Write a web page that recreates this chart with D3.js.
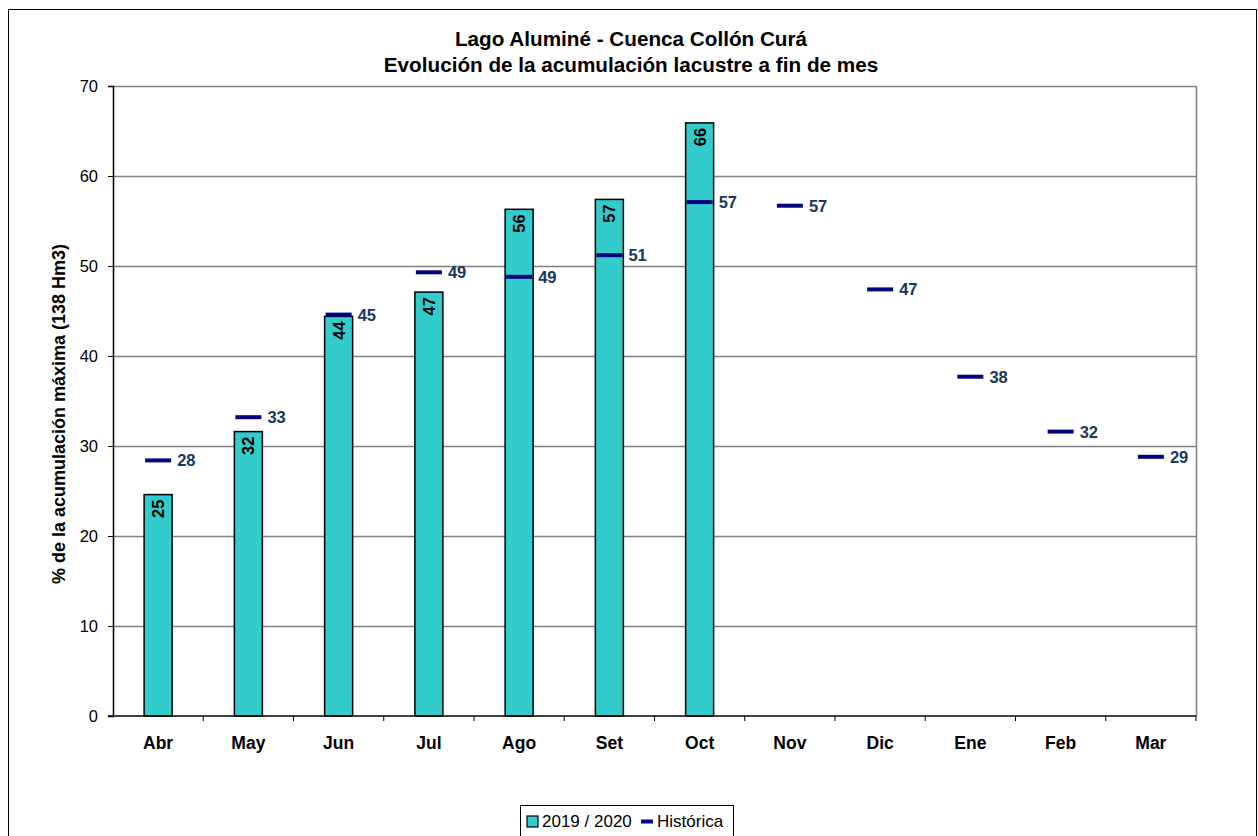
<!DOCTYPE html>
<html>
<head>
<meta charset="utf-8">
<script src="https://cdnjs.cloudflare.com/ajax/libs/d3/7.8.5/d3.min.js"></script>
<style>
body { margin: 0; background: #fff; }
svg text { font-family: "Liberation Sans", Arial, sans-serif; }
</style>
</head>
<body>
<svg id="chart" width="1258" height="836"></svg>
<script>
// datos
var meses = ["Abr","May","Jun","Jul","Ago","Set","Oct","Nov","Dic","Ene","Feb","Mar"];
var actual = [24.6, 31.6, 44.4, 47.1, 56.3, 57.4, 65.9];          // 2019 / 2020
var historica = [28.4, 33.2, 44.6, 49.3, 48.8, 51.2, 57.1, 56.7, 47.4, 37.7, 31.6, 28.8];
var yTicks = [0, 10, 20, 30, 40, 50, 60, 70];

var svg = d3.select("#chart");
var pLeft = 113, pRight = 1196, pTop = 86, pBottom = 716;

// marco exterior
svg.append("rect")
	.attr("x", 8.5).attr("y", 9.5)
	.attr("width", 1248).attr("height", 840)
	.attr("fill", "#fff").attr("stroke", "#000").attr("stroke-width", 1);

var x = d3.scaleBand().domain(meses).range([pLeft, pRight]);
var y = d3.scaleLinear().domain([0, 70]).range([pBottom, pTop]);

// grilla
svg.append("g").selectAll("line")
	.data(yTicks.filter(function(d){ return d > 0; }))
	.enter().append("line")
	.attr("x1", pLeft).attr("x2", pRight)
	.attr("y1", function(d){ return y(d) + 0.5; })
	.attr("y2", function(d){ return y(d) + 0.5; })
	.attr("stroke", "#808080").attr("stroke-width", 1.5);

// borde derecho gris
svg.append("line")
	.attr("x1", pRight + 0.5).attr("x2", pRight + 0.5)
	.attr("y1", pTop).attr("y2", pBottom)
	.attr("stroke", "#808080").attr("stroke-width", 1.5);

// barras
var bw = 28;
svg.append("g").selectAll("rect")
	.data(actual)
	.enter().append("rect")
	.attr("x", function(d, i){ return x(meses[i]) + x.bandwidth() / 2 - bw / 2; })
	.attr("y", function(d){ return y(d); })
	.attr("width", bw)
	.attr("height", function(d){ return pBottom - y(d); })
	.attr("fill", "#33CCCC")
	.attr("stroke", "#000").attr("stroke-width", 1.5);

// etiquetas barras (rotadas)
svg.append("g").selectAll("text")
	.data(actual)
	.enter().append("text")
	.attr("transform", function(d, i){
		var cx = x(meses[i]) + x.bandwidth() / 2 + 6;
		return "translate(" + cx + "," + (y(d) + 5) + ") rotate(-90)";
	})
	.attr("text-anchor", "end")
	.attr("font-size", "16.5px")
	.attr("font-weight", "bold")
	.attr("fill", "#000")
	.text(function(d){ return Math.round(d); });

// historica
var hw = 26;
svg.append("g").selectAll("line")
	.data(historica)
	.enter().append("line")
	.attr("x1", function(d, i){ return x(meses[i]) + x.bandwidth() / 2 - hw / 2; })
	.attr("x2", function(d, i){ return x(meses[i]) + x.bandwidth() / 2 + hw / 2; })
	.attr("y1", function(d){ return y(d); })
	.attr("y2", function(d){ return y(d); })
	.attr("stroke", "#000080").attr("stroke-width", 4);

svg.append("g").selectAll("text")
	.data(historica)
	.enter().append("text")
	.attr("x", function(d, i){ return x(meses[i]) + x.bandwidth() / 2 + 19; })
	.attr("y", function(d){ return y(d) + 6; })
	.attr("font-size", "16.5px")
	.attr("font-weight", "bold")
	.attr("fill", "#17375E")
	.text(function(d){ return Math.round(d); });

// eje y
var yAxis = d3.axisLeft(y).tickValues(yTicks).tickSize(5).tickPadding(10);
var gy = svg.append("g").attr("transform", "translate(" + pLeft + ",0)").call(yAxis);
gy.select(".domain").attr("stroke", "#000").attr("stroke-width", 1.5);
gy.selectAll(".tick line").attr("stroke", "#000");
gy.selectAll("text").attr("font-size", "16.5px").attr("fill", "#000")
	.attr("font-family", "Liberation Sans, Arial, sans-serif");

// eje x
var gx = svg.append("g").attr("transform", "translate(0," + pBottom + ")");
gx.append("line")
	.attr("x1", pLeft - 5).attr("x2", pRight)
	.attr("y1", 0).attr("y2", 0)
	.attr("stroke", "#000").attr("stroke-width", 1.5);
gx.selectAll(".tk")
	.data(meses)
	.enter().append("line")
	.attr("x1", function(d){ return x(d) + x.bandwidth(); })
	.attr("x2", function(d){ return x(d) + x.bandwidth(); })
	.attr("y1", 0).attr("y2", 5)
	.attr("stroke", "#000");
gx.selectAll(".lbl")
	.data(meses)
	.enter().append("text")
	.attr("x", function(d){ return x(d) + x.bandwidth() / 2; })
	.attr("y", 33)
	.attr("text-anchor", "middle")
	.attr("font-size", "17.5px")
	.attr("font-weight", "bold")
	.text(function(d){ return d; });

// titulo
svg.append("text")
	.attr("x", 631).attr("y", 46)
	.attr("text-anchor", "middle")
	.attr("font-size", "20.7px").attr("font-weight", "bold")
	.text("Lago Aluminé - Cuenca Collón Curá");
svg.append("text")
	.attr("x", 631).attr("y", 72)
	.attr("text-anchor", "middle")
	.attr("font-size", "20.7px").attr("font-weight", "bold")
	.text("Evolución de la acumulación lacustre a fin de mes");

// titulo eje y
svg.append("text")
	.attr("transform", "translate(65," + 414 + ") rotate(-90)")
	.attr("text-anchor", "middle")
	.attr("font-size", "18px").attr("font-weight", "bold")
	.text("% de la acumulación máxima (138 Hm3)");

// leyenda
var lg = svg.append("g").attr("transform", "translate(520,805)");
lg.append("rect")
	.attr("x", 0.5).attr("y", 0.5).attr("width", 213).attr("height", 40)
	.attr("fill", "#fff").attr("stroke", "#000");
lg.append("rect")
	.attr("x", 7).attr("y", 11).attr("width", 11).attr("height", 11)
	.attr("fill", "#33CCCC").attr("stroke", "#000").attr("stroke-width", 1.2);
lg.append("text").attr("x", 22).attr("y", 22).attr("font-size", "17px").text("2019 / 2020");
lg.append("line")
	.attr("x1", 121).attr("x2", 133).attr("y1", 16.5).attr("y2", 16.5)
	.attr("stroke", "#000080").attr("stroke-width", 4);
lg.append("text").attr("x", 137).attr("y", 22).attr("font-size", "17px").text("Histórica");
</script>
</body>
</html>
